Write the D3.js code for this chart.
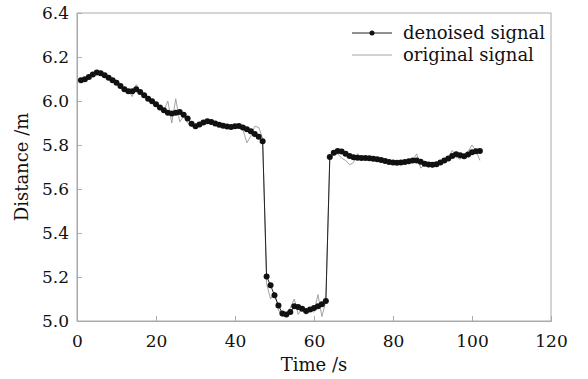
<!DOCTYPE html>
<html>
<head>
<meta charset="utf-8">
<script src="https://cdn.jsdelivr.net/npm/d3@7"></script>
<style>
  body { margin: 0; background: #fff; }
  text { font-family: "DejaVu Serif", "Liberation Serif", serif; fill: #111; }
</style>
</head>
<body>
<div id="chart"></div>
<script>
// time stamps (s), one sample per second
const times = d3.range(1, 103);

// denoised distance (m)
const denoised = [
  6.094, 6.099, 6.109, 6.120, 6.129, 6.126, 6.117, 6.106, 6.094, 6.083,
  6.068, 6.053, 6.044, 6.044, 6.053, 6.041, 6.026, 6.010, 5.999, 5.985,
  5.970, 5.958, 5.947, 5.943, 5.947, 5.950, 5.938, 5.920, 5.897, 5.885,
  5.893, 5.902, 5.908, 5.905, 5.898, 5.892, 5.887, 5.884, 5.882, 5.885,
  5.886, 5.880, 5.872, 5.862, 5.850, 5.838, 5.817,
  5.202, 5.162, 5.117, 5.071, 5.034, 5.030, 5.041, 5.067, 5.064, 5.056,
  5.046, 5.052, 5.059, 5.067, 5.076, 5.091,
  5.745, 5.765, 5.773, 5.770, 5.760, 5.750, 5.744, 5.742, 5.741, 5.741,
  5.740, 5.737, 5.735, 5.732, 5.727, 5.723, 5.720, 5.719, 5.721, 5.723,
  5.726, 5.729, 5.729, 5.724, 5.715, 5.711, 5.710, 5.713, 5.720, 5.729,
  5.739, 5.750, 5.758, 5.753, 5.749, 5.757, 5.767, 5.772, 5.773
];

// original (noisy) distance (m)
const original = [
  6.090, 6.100, 6.110, 6.120, 6.130, 6.125, 6.115, 6.100, 6.100, 6.095,
  6.070, 6.060, 6.045, 6.020, 6.075, 6.040, 6.030, 6.010, 6.000, 5.980,
  5.970, 5.955, 6.000, 5.900, 6.010, 5.905, 5.930, 5.900, 5.885, 5.885,
  5.890, 5.900, 5.910, 5.905, 5.895, 5.890, 5.885, 5.880, 5.885, 5.885,
  5.885, 5.870, 5.810, 5.840, 5.885, 5.880, 5.830,
  5.170, 5.100, 5.130, 5.050, 5.020, 5.030, 5.060, 5.100, 5.030, 5.060,
  5.030, 5.050, 5.040, 5.120, 5.020, 5.090,
  5.740, 5.755, 5.760, 5.740, 5.730, 5.710, 5.720, 5.760, 5.745, 5.740,
  5.735, 5.740, 5.730, 5.735, 5.725, 5.720, 5.720, 5.715, 5.725, 5.720,
  5.715, 5.730, 5.760, 5.695, 5.710, 5.705, 5.700, 5.715, 5.720, 5.735,
  5.740, 5.775, 5.745, 5.735, 5.755, 5.770, 5.800, 5.775, 5.730
];

const xTicks = [0, 20, 40, 60, 80, 100, 120];
const yTicks = [5.0, 5.2, 5.4, 5.6, 5.8, 6.0, 6.2, 6.4];
const seriesNames = ["denoised signal", "original signal"];

const width = 588, height = 379;
const margin = {top: 13, right: 37, bottom: 58, left: 77};
const w = width - margin.left - margin.right;
const h = height - margin.top - margin.bottom;

const svg = d3.select("#chart").append("svg")
  .attr("width", width)
  .attr("height", height);

const g = svg.append("g")
  .attr("transform", `translate(${margin.left},${margin.top})`);

const x = d3.scaleLinear().domain([0, 120]).range([0, w]);
const y = d3.scaleLinear().domain([5.0, 6.4]).range([h, 0]);

// frame
g.append("rect")
  .attr("width", w).attr("height", h)
  .attr("fill", "none").attr("stroke", "#aaa").attr("stroke-width", 1);

// axes, ticks pointing inward
const xAxis = g.append("g")
  .attr("transform", `translate(0,${h})`)
  .call(d3.axisBottom(x).tickValues(xTicks).tickSize(-5).tickPadding(14).tickFormat(d3.format("d")));
const yAxis = g.append("g")
  .call(d3.axisLeft(y).tickValues(yTicks).tickSize(-5).tickPadding(8).tickFormat(d3.format(".1f")));

[xAxis, yAxis].forEach(a => {
  a.select(".domain").attr("stroke", "#aaa");
  a.selectAll(".tick line").attr("stroke", "#aaa");
  a.selectAll(".tick text").style("font-size", "17px").attr("fill", "#111");
});
xAxis.selectAll(".tick").filter(d => d === 0 || d === 120).select("line").remove();
yAxis.selectAll(".tick").filter(d => d === 5.0 || d === 6.4).select("line").remove();

// axis titles
svg.append("text")
  .attr("x", margin.left + w / 2).attr("y", 371)
  .attr("text-anchor", "middle").style("font-size", "18px")
  .text("Time /s");
svg.append("text")
  .attr("transform", `translate(28,${margin.top + h / 2}) rotate(-90)`)
  .attr("text-anchor", "middle").style("font-size", "18px")
  .text("Distance /m");

const line = d3.line().x(d => x(d[0])).y(d => y(d[1]));

// original signal
g.append("path")
  .datum(times.map((t, i) => [t, original[i]]))
  .attr("d", line)
  .attr("fill", "none").attr("stroke", "#999").attr("stroke-width", 0.9);

// denoised signal
const den = times.map((t, i) => [t, denoised[i]]);
g.append("path")
  .datum(den)
  .attr("d", line)
  .attr("fill", "none").attr("stroke", "#222").attr("stroke-width", 1);
g.selectAll("circle.pt").data(den).enter()
  .append("circle").attr("class", "pt")
  .attr("cx", d => x(d[0])).attr("cy", d => y(d[1]))
  .attr("r", 3).attr("fill", "#111");

// legend
const legend = svg.append("g").attr("transform", "translate(352,33)");
seriesNames.forEach((name, i) => {
  const row = legend.append("g").attr("transform", `translate(0,${i * 22})`);
  row.append("line").attr("x1", 0).attr("x2", 40)
    .attr("stroke", i === 0 ? "#222" : "#999").attr("stroke-width", i === 0 ? 1 : 0.9);
  if (i === 0) row.append("circle").attr("cx", 20).attr("r", 2.5).attr("fill", "#111");
  row.append("text").attr("x", 51).attr("dy", "0.32em")
    .style("font-size", "18px").text(name);
});
</script>
</body>
</html>
